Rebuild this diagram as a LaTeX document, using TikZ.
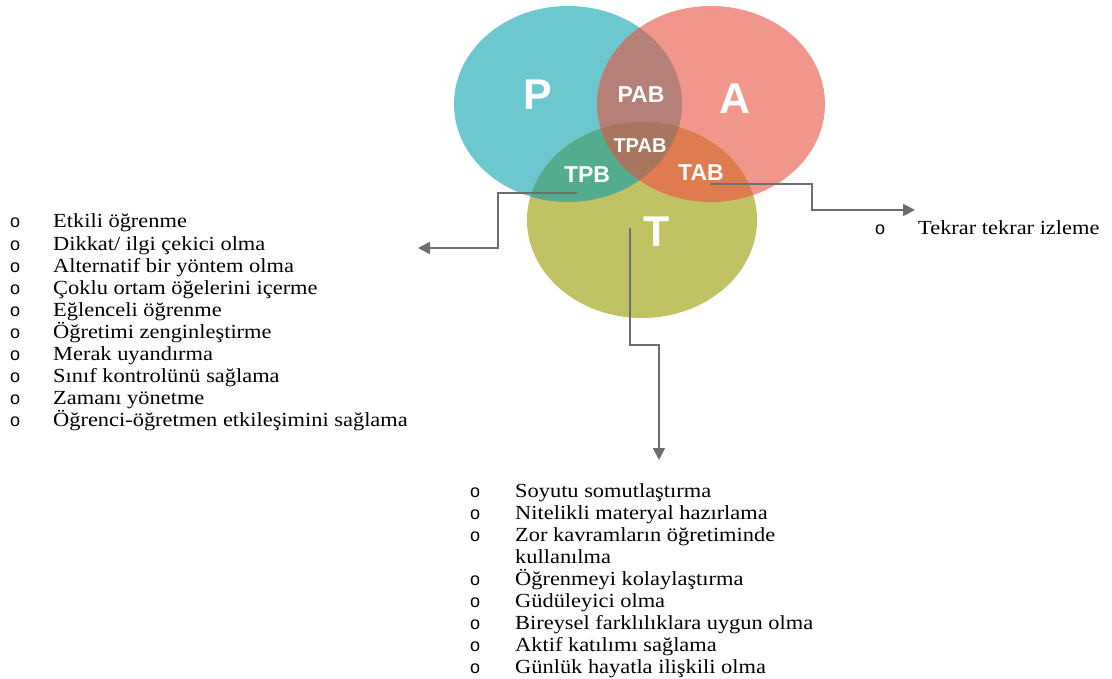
\documentclass[tikz,border=0pt]{standalone}
\usepackage{fontspec}
\setsansfont{Liberation Sans}
\newfontfamily\listfont{Liberation Serif}[FakeStretch=1.12]
\usetikzlibrary{arrows.meta}

\definecolor{pcol}{HTML}{6CC8CE}
\definecolor{acol}{HTML}{F0968A}
\definecolor{tcol}{HTML}{C0C264}
\definecolor{pacol}{HTML}{B48078}
\definecolor{ptcol}{HTML}{54AC8E}
\definecolor{atcol}{HTML}{DE7B4F}
\definecolor{patcol}{HTML}{A8765F}
\definecolor{linegray}{HTML}{6E6E6E}

\newcommand{\pell}{(568,104) ellipse [x radius=114, y radius=98]}
\newcommand{\aell}{(711,104) ellipse [x radius=114, y radius=98]}
\newcommand{\tell}{(642,220) ellipse [x radius=115, y radius=98]}
\newcommand{\bul}[1]{\makebox[#1][l]{\sffamily\fontsize{18}{18}\selectfont o}}

\begin{document}
\begin{tikzpicture}[x=1pt,y=-1pt,
  letter/.style={text=white,inner sep=0,font=\sffamily\bfseries\fontsize{43}{43}\selectfont},
  region/.style={text=white,inner sep=0,font=\sffamily\bfseries\fontsize{23}{23}\selectfont},
  conn/.style={draw=linegray,line width=1.8pt,-{Triangle[length=12pt,width=12pt]}},
  item/.style={anchor=base west,inner sep=0,font=\listfont\fontsize{20}{22}\selectfont}]
  \useasboundingbox (0,0) rectangle (1112,679);

  % Fill the three ellipses
  \fill[pcol] \pell;
  \fill[acol] \aell;
  \fill[tcol] \tell;

  % Fill the overlaps
  \begin{scope}
    \clip \pell;
    \fill[pacol] \aell;
    \fill[ptcol] \tell;
  \end{scope}
  \begin{scope}
    \clip \aell;
    \fill[atcol] \tell;
  \end{scope}
  \begin{scope}
    \clip \pell;
    \clip \aell;
    \fill[patcol] \tell;
  \end{scope}

  % Labels
  \node[letter] (P) at (538,95) {P};
  \node[letter] (A) at (735,99) {A};
  \node[letter] (T) at (657,232) {T};
  \node[region] (PAB) at (641,95) {PAB};
  \node[region,font=\sffamily\bfseries\fontsize{20}{20}\selectfont] (TPAB) at (640,146) {TPAB};
  \node[region] (TPB) at (587,175) {TPB};
  \node[region] (TAB) at (701,173) {TAB};

  % Ends of the connectors
  \coordinate (tpbout) at (577,193);
  \coordinate (tabout) at (710,184);
  \coordinate (tout) at (630,228);
  \coordinate (leftend) at (418,248);
  \coordinate (rightend) at (915,210);
  \coordinate (downend) at (659,460);

  % Connectors
  \draw[conn] (tpbout) -- ++(-79,0) |- (leftend);
  \draw[conn] (tabout) -- ++(102,0) |- (rightend);
  \draw[conn] (tout) -- ++(0,117) -| (downend);

  % Left list
  \foreach \txt [count=\i] in {Etkili öğrenme, Dikkat/ ilgi çekici olma,
      Alternatif bir yöntem olma, Çoklu ortam öğelerini içerme,
      Eğlenceli öğrenme, Öğretimi zenginleştirme, Merak uyandırma,
      Sınıf kontrolünü sağlama, Zamanı yönetme,
      Öğrenci-öğretmen etkileşimini sağlama}
    \node[item] (left\i) at (10,{228+22.1*(\i-1)}) {\bul{43pt}\txt};

  % Right list
  \node[item] (right1) at (875,235) {\bul{43pt}Tekrar tekrar izleme};

  % Bottom list
  \foreach \b/\txt [count=\i] in {o/Soyutu somutlaştırma,
      o/Nitelikli materyal hazırlama, o/Zor kavramların öğretiminde,
      {}/kullanılma, o/Öğrenmeyi kolaylaştırma, o/Güdüleyici olma,
      o/Bireysel farklılıklara uygun olma, o/Aktif katılımı sağlama,
      o/Günlük hayatla ilişkili olma}
    \node[item] (down\i) at (470,{497+22*(\i-1)})
      {\makebox[45pt][l]{\sffamily\fontsize{18}{18}\selectfont\b}\txt};
\end{tikzpicture}
\end{document}
